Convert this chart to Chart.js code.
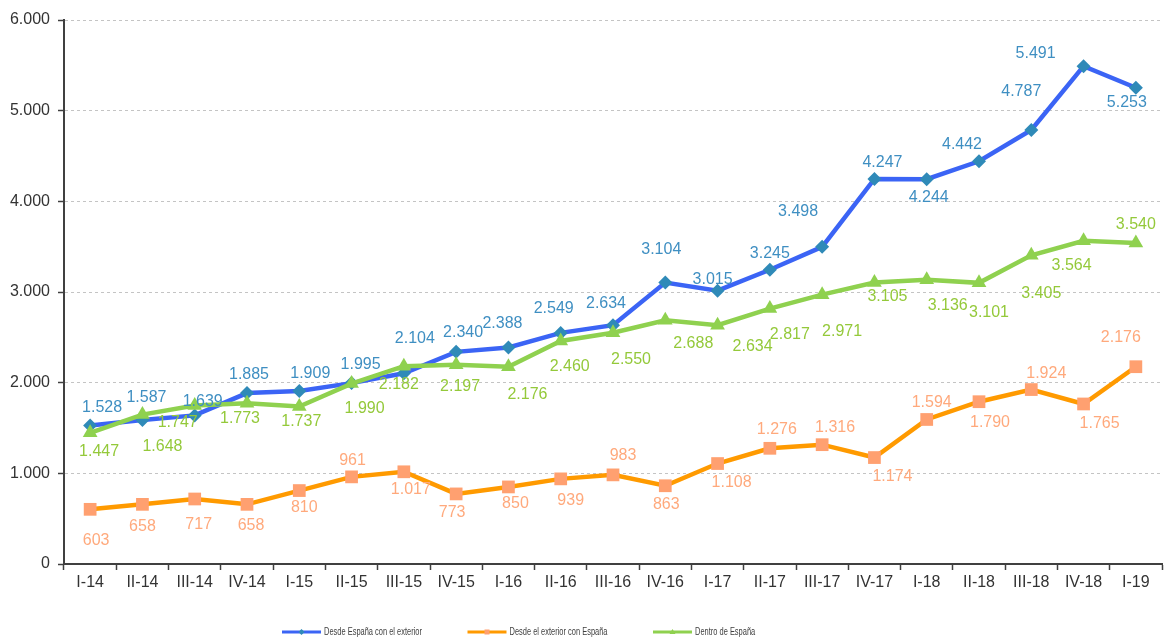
<!DOCTYPE html>
<html>
<head>
<meta charset="utf-8">
<script src="https://cdn.jsdelivr.net/npm/chart.js@4.4.1/dist/chart.umd.min.js"></script>
<style>
  html, body { margin: 0; padding: 0; background: #ffffff; }
  #wrap { width: 1171px; height: 641px; position: relative; }
</style>
</head>
<body>
<div id="wrap"><canvas id="c" width="1171" height="641"></canvas></div>
<script>
// ---- data ----
const categories = ["I-14","II-14","III-14","IV-14","I-15","II-15","III-15","IV-15","I-16","II-16","III-16","IV-16","I-17","II-17","III-17","IV-17","I-18","II-18","III-18","IV-18","I-19"];
const desdeEspanaExterior = [1528,1587,1639,1885,1909,1995,2104,2340,2388,2549,2634,3104,3015,3245,3498,4247,4244,4442,4787,5491,5253];
const desdeExteriorEspana = [603,658,717,658,810,961,1017,773,850,939,983,863,1108,1276,1316,1174,1594,1790,1924,1765,2176];
const dentroEspana = [1447,1648,1747,1773,1737,1990,2182,2197,2176,2460,2550,2688,2634,2817,2971,3105,3136,3101,3405,3564,3540];
const seriesNames = ["Desde España con el exterior","Desde el exterior con España","Dentro de España"];
const yTicks = [0,1000,2000,3000,4000,5000,6000];

// ---- label placement (offset of each value label from its point, in px) ----
const labelOffsetsBlue = [[12,-18],[4,-23],[8,-14],[2,-18],[11,-17],[9,-19],[11,-35],[7,-19],[-6,-24],[-7,-24],[-7,-22],[-4,-33],[-5,-11],[0,-16],[-24,-35],[8,-16],[2,18],[-17,-17],[-10,-38],[-48,-13],[-9,15]];
const labelOffsetsOrange = [[6,31],[0,22],[4,26],[4,21],[5,17],[1,-16],[7,18],[-4,19],[7,17],[10,22],[10,-19],[1,19],[14,19],[7,-19],[13,-17],[18,19],[5,-17],[11,21],[15,-16],[16,20],[-15,-29]];
const labelOffsetsGreen = [[9,19],[20,32],[-17,17],[-7,15],[2,15],[13,25],[-5,18],[4,22],[19,28],[9,26],[18,27],[28,23],[35,21],[20,26],[20,37],[13,14],[21,26],[10,30],[10,38],[-12,25],[0,-18]];

const fmt = v => String(v).replace(/\B(?=(\d{3})+(?!\d))/g, ".");
const FONT = "'Liberation Sans', Arial, sans-serif";

const valueLabels = {
  id: 'valueLabels',
  afterDatasetsDraw(chart) {
    const ctx = chart.ctx;
    ctx.save();
    ctx.font = "16px " + FONT;
    ctx.textAlign = "center";
    ctx.textBaseline = "middle";
    chart.data.datasets.forEach((ds, di) => {
      const meta = chart.getDatasetMeta(di);
      ctx.fillStyle = ds.labelColor;
      meta.data.forEach((pt, i) => {
        const off = ds.labelOffsets[i];
        ctx.fillText(fmt(ds.data[i]), pt.x + off[0], pt.y + off[1]);
      });
    });
    ctx.restore();
  }
};

const bottomLegend = {
  id: 'bottomLegend',
  afterDraw(chart) {
    const ctx = chart.ctx;
    ctx.save();
    const y = 632;
    const startX = 282, step = 185.5, lineLen = 39;
    ctx.font = "11px " + FONT;
    const squeeze = 98 / ctx.measureText(seriesNames[0]).width;
    chart.data.datasets.forEach((ds, i) => {
      const x0 = startX + i * step;
      ctx.strokeStyle = ds.borderColor;
      ctx.lineWidth = 3;
      ctx.beginPath(); ctx.moveTo(x0, y); ctx.lineTo(x0 + lineLen, y); ctx.stroke();
      ctx.fillStyle = ds.pointBackgroundColor;
      const cx = x0 + lineLen / 2;
      ctx.beginPath();
      if (ds.pointStyle === 'rectRot') { ctx.moveTo(cx, y - 3); ctx.lineTo(cx + 3, y); ctx.lineTo(cx, y + 3); ctx.lineTo(cx - 3, y); }
      else if (ds.pointStyle === 'rect') { ctx.rect(cx - 2.5, y - 2.5, 5, 5); }
      else { ctx.moveTo(cx, y - 3); ctx.lineTo(cx + 3, y + 2); ctx.lineTo(cx - 3, y + 2); }
      ctx.closePath(); ctx.fill();
      ctx.fillStyle = "#404040";
      ctx.textBaseline = "middle";
      ctx.textAlign = "left";
      ctx.save();
      ctx.translate(x0 + lineLen + 3, y);
      ctx.scale(squeeze, 1);
      ctx.fillText(seriesNames[i], 0, 0);
      ctx.restore();
    });
    ctx.restore();
  }
};

new Chart(document.getElementById('c'), {
  type: 'line',
  data: {
    labels: categories,
    datasets: [
      {
        label: seriesNames[0], data: desdeEspanaExterior,
        borderColor: '#3b64f5', borderWidth: 4.5,
        pointStyle: 'rectRot', pointRadius: 7, pointBackgroundColor: '#2f8ab8', pointBorderColor: '#2f8ab8', pointBorderWidth: 0,
        labelColor: '#3f8fc2', labelOffsets: labelOffsetsBlue, order: 2, tension: 0
      },
      {
        label: seriesNames[1], data: desdeExteriorEspana,
        borderColor: '#ff9a00', borderWidth: 4.5,
        pointStyle: 'rect', pointRadius: 9, pointBackgroundColor: '#ffa070', pointBorderColor: '#ffa070', pointBorderWidth: 0,
        labelColor: '#ffa97c', labelOffsets: labelOffsetsOrange, order: 1, tension: 0
      },
      {
        label: seriesNames[2], data: dentroEspana,
        borderColor: '#8fd14f', borderWidth: 4.5,
        pointStyle: 'triangle', pointRadius: 8.5, pointBackgroundColor: '#8fd14f', pointBorderColor: '#8fd14f', pointBorderWidth: 0,
        labelColor: '#94c93a', labelOffsets: labelOffsetsGreen, order: 0, tension: 0
      }
    ]
  },
  options: {
    responsive: false,
    animation: false,
    events: [],
    layout: { padding: { left: 0, top: 20, right: 1, bottom: 37 } },
    plugins: { legend: { display: false }, tooltip: { enabled: false }, title: { display: false } },
    scales: {
      x: {
        type: 'category',
        offset: true,
        afterFit(s) { s.height = 40; },
        grid: { display: true, drawOnChartArea: false, drawTicks: true, tickLength: 6, tickColor: '#404040', tickWidth: 1.5, offset: true },
        border: { display: true, color: '#404040', width: 2 },
        ticks: { color: '#333333', font: { family: FONT, size: 16 }, padding: 3, maxRotation: 0, autoSkip: false }
      },
      y: {
        min: 0, max: 6000,
        afterFit(s) { s.width = 64; },
        afterBuildTicks(s) { s.ticks = yTicks.map(v => ({ value: v })); },
        grid: { color: '#c4c4c4', lineWidth: 1, drawTicks: true, tickLength: 6, tickColor: '#404040', tickWidth: 1.5, tickBorderDash: [] },
        border: { display: true, color: '#404040', width: 2, dash: [3, 3] },
        ticks: { color: '#333333', font: { family: FONT, size: 16 }, padding: 8, callback: v => fmt(v) }
      }
    }
  },
  plugins: [valueLabels, bottomLegend]
});
</script>
</body>
</html>
